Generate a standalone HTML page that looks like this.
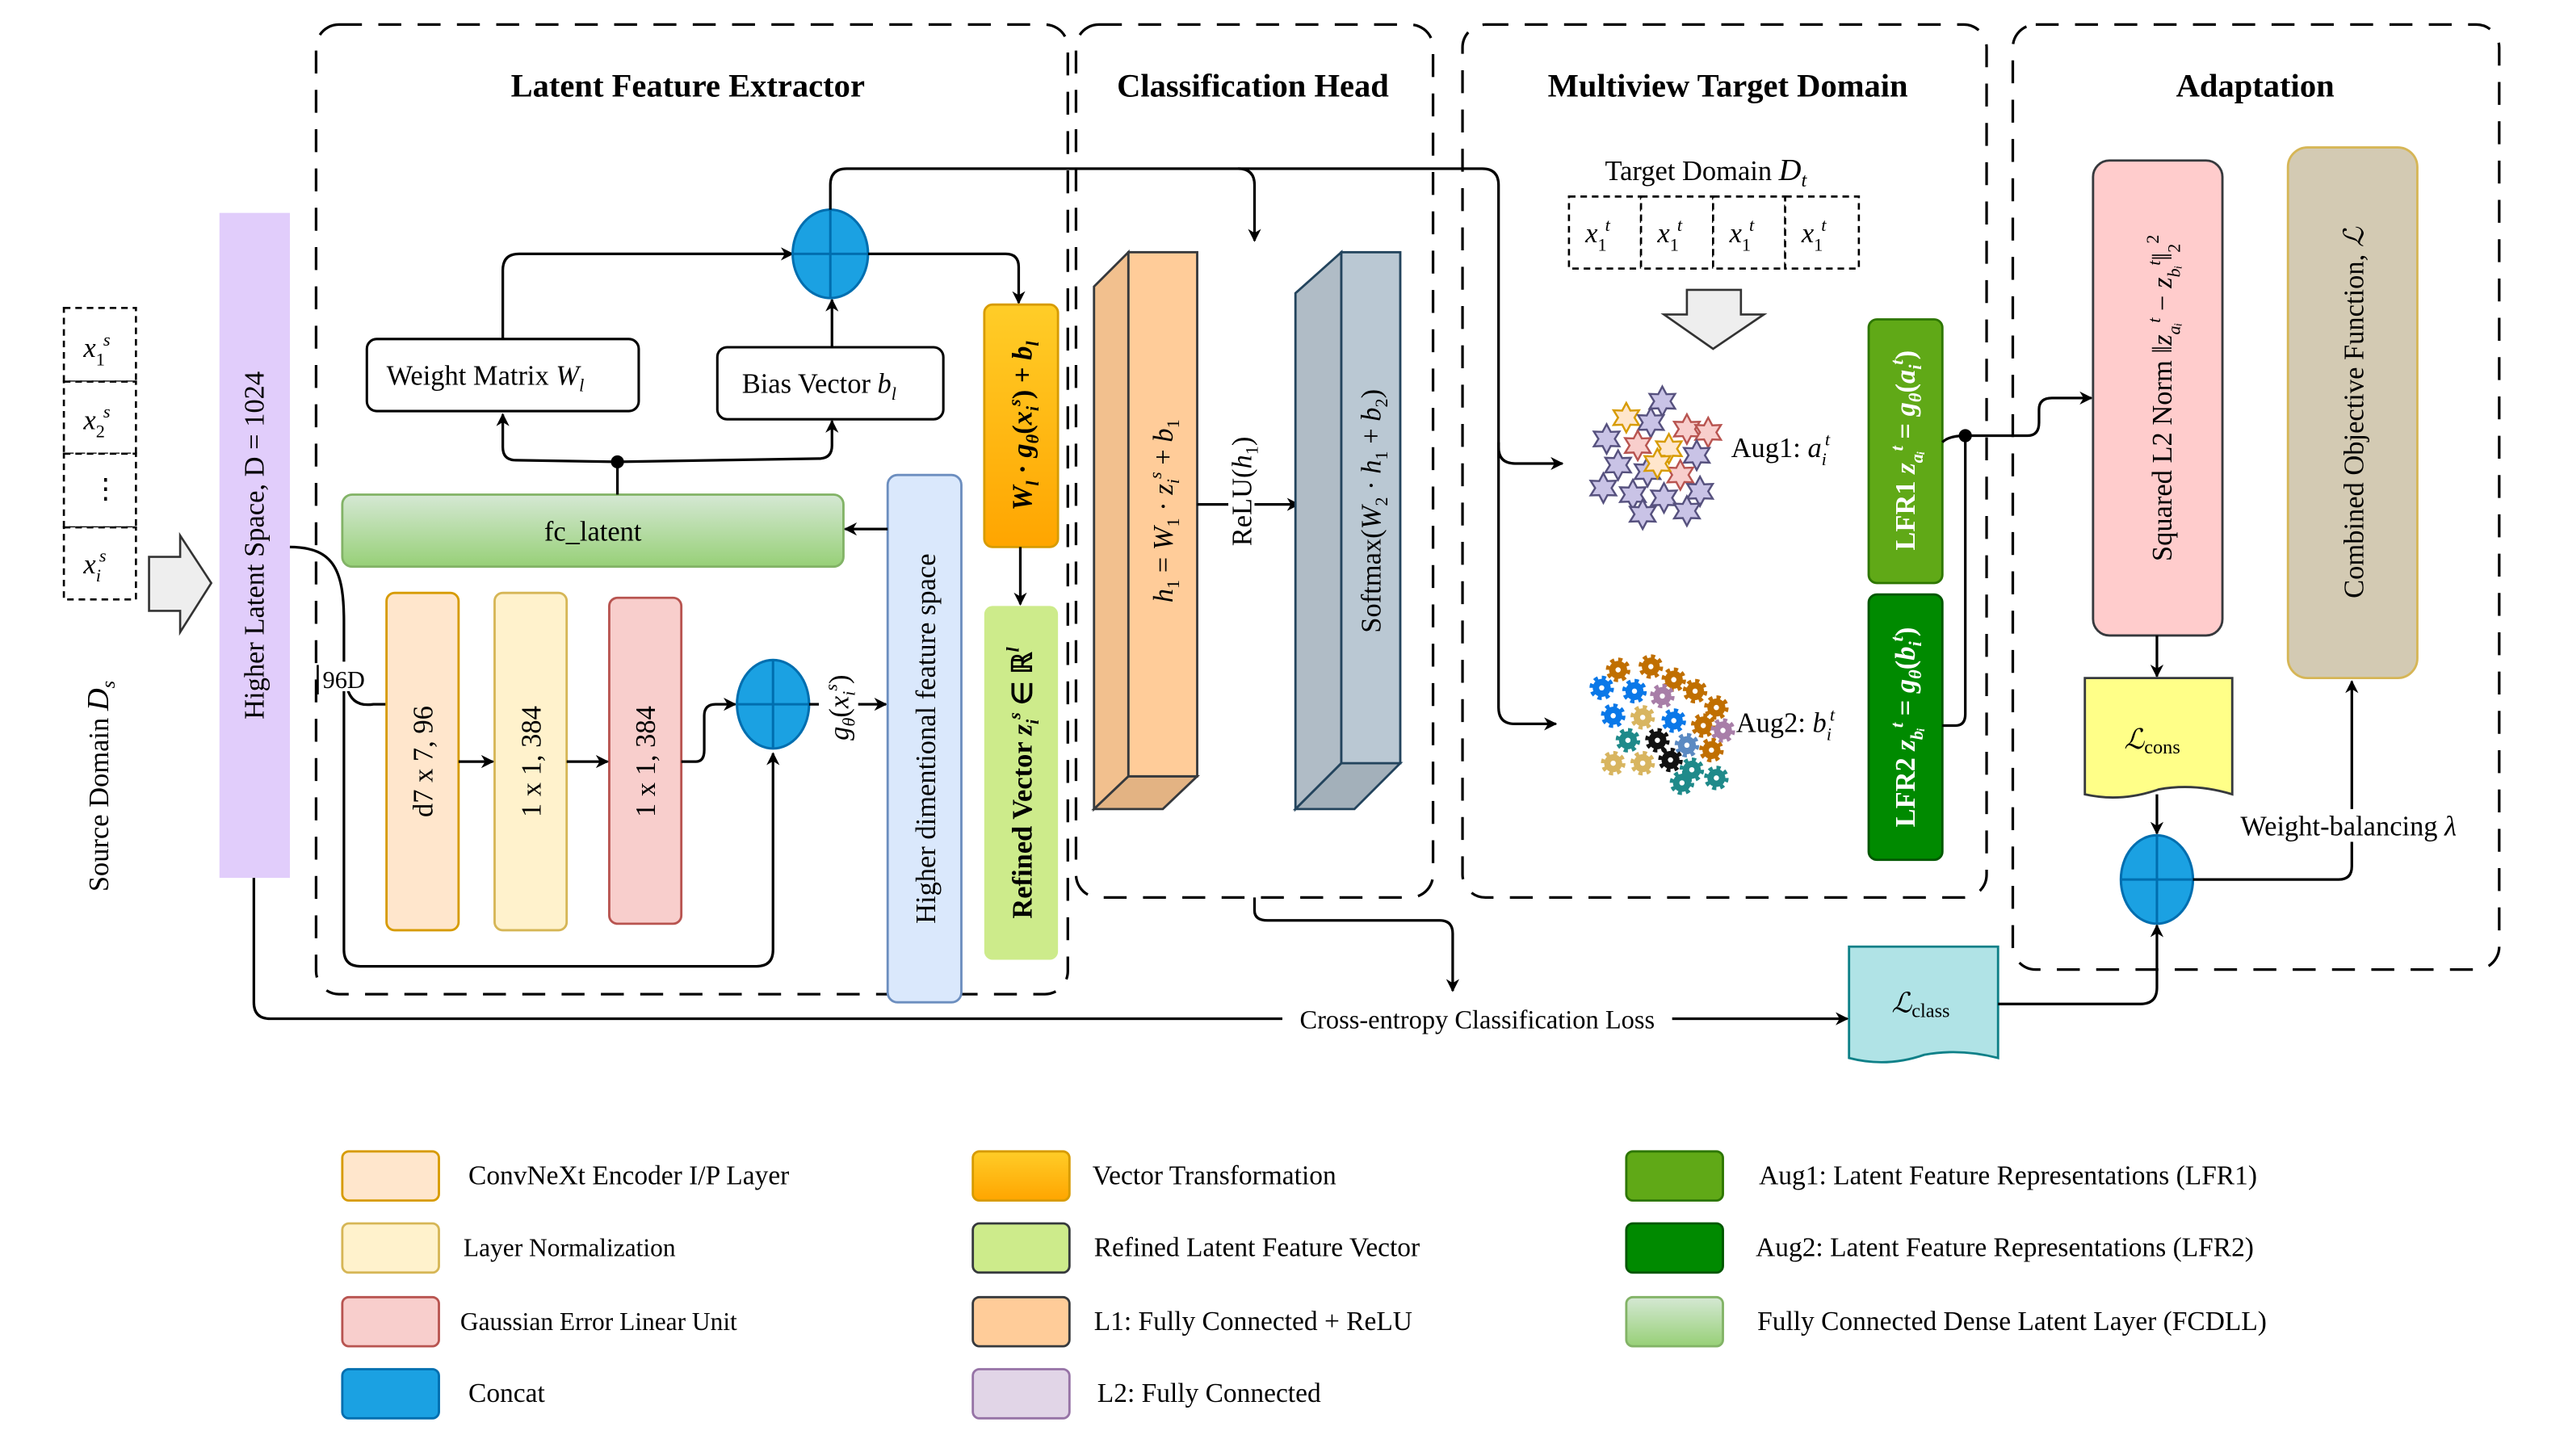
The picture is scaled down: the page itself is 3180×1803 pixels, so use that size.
<!DOCTYPE html>
<html><head><meta charset="utf-8">
<style>
html,body{margin:0;padding:0;background:#fff;}
svg{display:block;}
text{font-family:"Liberation Serif",serif;fill:#000;}
.t{font-size:17px;}
.b{font-weight:bold;}
.i{font-style:italic;}
.ln{fill:none;stroke:#000;stroke-width:1.6;}
.dash{fill:none;stroke:#000;stroke-width:1.6;stroke-dasharray:14 10;}
.sd{fill:#fff;stroke:#000;stroke-width:1.3;stroke-dasharray:4 3;}
</style></head>
<body>
<svg width="3180" height="1803" viewBox="0 0 1568 889" preserveAspectRatio="none" xmlns="http://www.w3.org/2000/svg">
<defs>
<marker id="ar" viewBox="0 0 10 10" refX="9" refY="5" markerWidth="8" markerHeight="8" orient="auto" markerUnits="userSpaceOnUse">
<path d="M0,0 L10,5 L0,10 L3,5 z" fill="#000"/></marker>
<linearGradient id="gG" x1="0" y1="0" x2="0" y2="1"><stop offset="0" stop-color="#d5e8d4"/><stop offset="1" stop-color="#97d077"/></linearGradient>
<linearGradient id="gO" x1="0" y1="0" x2="0" y2="1"><stop offset="0" stop-color="#ffcd28"/><stop offset="1" stop-color="#ffa500"/></linearGradient>
<polygon id="st" points="0,-9 2.5,-4.3 7.8,-4.5 5,0 7.8,4.5 2.5,4.3 0,9 -2.5,4.3 -7.8,4.5 -5,0 -7.8,-4.5 -2.5,-4.3"/>
<g id="gr"><circle r="5.5" stroke-width="4" stroke-dasharray="2.2 2.1"/><circle r="1.6" fill="#fff" stroke="none"/></g>
</defs>

<rect class="dash" x="193" y="15" width="459" height="592" rx="14"/>
<rect class="dash" x="657" y="15" width="218" height="533" rx="14"/>
<rect class="dash" x="893" y="15" width="320" height="533" rx="14"/>
<rect class="dash" x="1229" y="15" width="297" height="577" rx="14"/>

<text x="420" y="59" text-anchor="middle" class="b" font-size="20">Latent Feature Extractor</text>
<text x="765" y="59" text-anchor="middle" class="b" font-size="20">Classification Head</text>
<text x="1055" y="59" text-anchor="middle" class="b" font-size="20">Multiview Target Domain</text>
<text x="1377" y="59" text-anchor="middle" class="b" font-size="20">Adaptation</text>

<rect class="sd" x="39" y="188" width="44" height="45"/>
<rect class="sd" x="39" y="233" width="44" height="44"/>
<rect class="sd" x="39" y="277" width="44" height="45"/>
<rect class="sd" x="39" y="322" width="44" height="44"/>
<text x="51" y="218" class="t i">x<tspan font-size="11" dy="5" font-style="normal">1</tspan><tspan font-size="11" dy="-12" dx="-1">s</tspan></text>
<text x="51" y="262" class="t i">x<tspan font-size="11" dy="5" font-style="normal">2</tspan><tspan font-size="11" dy="-12" dx="-1">s</tspan></text>
<text x="56" y="304" class="t">⋮</text>
<text x="51" y="350" class="t i">x<tspan font-size="11" dy="5">i</tspan><tspan font-size="11" dy="-12" dx="-1">s</tspan></text>
<polygon points="91,340 110,340 110,327 129,356 110,386 110,373 91,373" fill="#eee" stroke="#333" stroke-width="1.3"/>
<text transform="translate(66,480) rotate(-90)" text-anchor="middle" class="t">Source Domain <tspan class="i" font-size="19">D</tspan><tspan class="i" font-size="12" dy="4">s</tspan></text>

<rect x="134" y="130" width="43" height="406" fill="#e1cdfb"/>
<text transform="translate(161,333) rotate(-90)" text-anchor="middle" class="t">Higher Latent Space, D = 1024</text>

<path class="ln" d="M177,334 C205,334 210,350 210,380 L210,580 Q210,590 220,590 L462,590 Q472,590 472,580 L472,460" marker-end="url(#ar)"/>
<path class="ln" d="M212,420 Q215,432 228,430 L236,430"/>
<rect x="196" y="404" width="32" height="18" fill="#fff"/>
<text x="197" y="420" font-size="15">96D</text>
<line x1="194" y1="406" x2="194" y2="424" stroke="#000" stroke-width="1.3"/>

<rect x="236" y="362" width="44" height="206" rx="5" fill="#ffe6cc" stroke="#d79b00" stroke-width="1.4"/>
<rect x="302" y="362" width="44" height="206" rx="5" fill="#fff2cc" stroke="#d6b656" stroke-width="1.4"/>
<rect x="372" y="365" width="44" height="199" rx="5" fill="#f8cecc" stroke="#b85450" stroke-width="1.4"/>
<text transform="translate(264,465) rotate(-90)" text-anchor="middle" class="t">d7 x 7, 96</text>
<text transform="translate(330,465) rotate(-90)" text-anchor="middle" class="t">1 x 1, 384</text>
<text transform="translate(400,465) rotate(-90)" text-anchor="middle" class="t">1 x 1, 384</text>
<line class="ln" x1="280" y1="465" x2="301" y2="465" marker-end="url(#ar)"/>
<line class="ln" x1="346" y1="465" x2="371" y2="465" marker-end="url(#ar)"/>
<path class="ln" d="M416,465 L425,465 Q430,465 430,458 L430,437 Q430,430 437,430 L449,430" marker-end="url(#ar)"/>

<ellipse cx="472" cy="430" rx="22" ry="27" fill="#1ba1e2" stroke="#006eaf" stroke-width="1.5"/>
<line x1="450" y1="430" x2="494" y2="430" stroke="#006eaf" stroke-width="1.5"/>
<line x1="472" y1="403" x2="472" y2="457" stroke="#006eaf" stroke-width="1.5"/>
<line class="ln" x1="494" y1="430" x2="541" y2="430" marker-end="url(#ar)"/>
<rect x="500" y="400" width="24" height="62" fill="#fff"/>
<text transform="translate(518,432) rotate(-90)" text-anchor="middle" class="t i">g<tspan font-size="11" dy="4">θ</tspan><tspan dy="-4" font-style="normal">(</tspan>x<tspan font-size="11" dy="4">i</tspan><tspan font-size="11" dy="-11">s</tspan><tspan dy="7" font-style="normal">)</tspan></text>

<rect x="542" y="290" width="45" height="322" rx="6" fill="#dae8fc" stroke="#6c8ebf" stroke-width="1.4"/>
<text transform="translate(571,451) rotate(-90)" text-anchor="middle" class="t" font-size="18">Higher dimentional feature space</text>

<rect x="209" y="302" width="306" height="44" rx="6" fill="url(#gG)" stroke="#82b366" stroke-width="1.4"/>
<text x="362" y="330" text-anchor="middle" class="t" font-size="18">fc_latent</text>
<line class="ln" x1="542" y1="323" x2="516" y2="323" marker-end="url(#ar)"/>

<line class="ln" x1="377" y1="302" x2="377" y2="282"/>
<circle cx="377" cy="282" r="4" fill="#000"/>
<path class="ln" d="M377,282 L315,281 Q307,281 307,273 L307,253" marker-end="url(#ar)"/>
<path class="ln" d="M377,282 L500,280 Q508,280 508,272 L508,257" marker-end="url(#ar)"/>

<rect x="224" y="207" width="166" height="44" rx="6" fill="#fff" stroke="#000" stroke-width="1.5"/>
<text x="236" y="235" class="t">Weight Matrix <tspan class="i">W<tspan font-size="11" dy="4">l</tspan></tspan></text>
<rect x="438" y="212" width="138" height="44" rx="6" fill="#fff" stroke="#000" stroke-width="1.5"/>
<text x="453" y="240" class="t">Bias Vector <tspan class="i">b<tspan font-size="11" dy="4">l</tspan></tspan></text>

<path class="ln" d="M307,207 L307,165 Q307,155 317,155 L484,155" marker-end="url(#ar)"/>
<line class="ln" x1="508" y1="212" x2="508" y2="183" marker-end="url(#ar)"/>
<ellipse cx="507" cy="155" rx="23" ry="27" fill="#1ba1e2" stroke="#006eaf" stroke-width="1.5"/>
<line x1="484" y1="155" x2="530" y2="155" stroke="#006eaf" stroke-width="1.5"/>
<line x1="507" y1="128" x2="507" y2="182" stroke="#006eaf" stroke-width="1.5"/>
<path class="ln" d="M530,155 L614,155 Q622,155 622,163 L622,185" marker-end="url(#ar)"/>
<path class="ln" d="M507,128 L507,113 Q507,103 517,103 L756,103 Q766,103 766,113 L766,147" marker-end="url(#ar)"/>
<path class="ln" d="M756,103 L905,103 Q915,103 915,113 L915,273 Q915,283 925,283 L954,283" marker-end="url(#ar)"/>
<path class="ln" d="M915,270 L915,432 Q915,442 925,442 L950,442" marker-end="url(#ar)"/>

<rect x="601" y="186" width="45" height="148" rx="5" fill="url(#gO)" stroke="#d79b00" stroke-width="1.4"/>
<text transform="translate(630,260) rotate(-90)" text-anchor="middle" class="t b i">W<tspan font-size="11" dy="4">l</tspan><tspan dy="-4" font-style="normal"> · </tspan>g<tspan font-size="11" dy="4">θ</tspan><tspan dy="-4" font-style="normal">(</tspan>x<tspan font-size="11" dy="4">i</tspan><tspan font-size="11" dy="-11">s</tspan><tspan dy="7" font-style="normal">) + </tspan>b<tspan font-size="11" dy="4">l</tspan></text>
<line class="ln" x1="623" y1="334" x2="623" y2="369" marker-end="url(#ar)"/>
<rect x="601" y="370" width="45" height="216" rx="5" fill="#cdeb8b"/>
<text transform="translate(630,478) rotate(-90)" text-anchor="middle" class="t b">Refined Vector  <tspan class="i">z<tspan font-size="11" dy="4">i</tspan><tspan font-size="11" dy="-11">s</tspan><tspan dy="7" font-style="normal"> ∈ ℝ</tspan><tspan font-size="11" dy="-8">l</tspan></tspan></text>

<polygon points="668,175 689,154 689,474 668,494" fill="#f2c08e" stroke="#36393d" stroke-width="1.4"/>
<polygon points="668,494 689,474 731,474 710,494" fill="#e3b383" stroke="#36393d" stroke-width="1.4"/>
<rect x="689" y="154" width="42" height="320" fill="#ffcc99" stroke="#36393d" stroke-width="1.4"/>
<text transform="translate(716,312) rotate(-90)" text-anchor="middle" class="t i" font-size="18">h<tspan font-size="11" dy="4" font-style="normal">1</tspan><tspan dy="-4" font-style="normal"> = </tspan>W<tspan font-size="11" dy="4" font-style="normal">1</tspan><tspan dy="-4" font-style="normal"> · </tspan>z<tspan font-size="11" dy="4">i</tspan><tspan font-size="11" dy="-11">s</tspan><tspan dy="7" font-style="normal"> + </tspan>b<tspan font-size="11" dy="4" font-style="normal">1</tspan></text>
<line class="ln" x1="731" y1="308" x2="750" y2="308"/>
<line class="ln" x1="766" y1="308" x2="793" y2="308" marker-end="url(#ar)"/>
<text transform="translate(764,300) rotate(-90)" text-anchor="middle" class="t">ReLU(<tspan class="i">h</tspan><tspan font-size="11" dy="4">1</tspan><tspan dy="-4">)</tspan></text>

<polygon points="791,179 819,154 819,466 791,494" fill="#b0bcc6" stroke="#23445d" stroke-width="1.4"/>
<polygon points="791,494 819,466 855,466 827,494" fill="#a3b0ba" stroke="#23445d" stroke-width="1.4"/>
<rect x="819" y="154" width="36" height="312" fill="#bac8d3" stroke="#23445d" stroke-width="1.4"/>
<text transform="translate(843,312) rotate(-90)" text-anchor="middle" class="t" font-size="18">Softmax(<tspan class="i">W</tspan><tspan font-size="11" dy="4">2</tspan><tspan dy="-4"> · </tspan><tspan class="i">h</tspan><tspan font-size="11" dy="4">1</tspan><tspan dy="-4"> + </tspan><tspan class="i">b</tspan><tspan font-size="11" dy="4">2</tspan><tspan dy="-4">)</tspan></text>

<text x="980" y="110" class="t">Target Domain <tspan class="i" font-size="19">D</tspan><tspan class="i" font-size="12" dy="4">t</tspan></text>
<rect class="sd" x="958" y="120" width="44" height="44"/>
<rect class="sd" x="1002" y="120" width="44" height="44"/>
<rect class="sd" x="1046" y="120" width="44" height="44"/>
<rect class="sd" x="1090" y="120" width="45" height="44"/>
<g class="t i">
<text x="968" y="148">x<tspan font-size="11" dy="5" font-style="normal">1</tspan><tspan font-size="11" dy="-12" dx="-1">t</tspan></text>
<text x="1012" y="148">x<tspan font-size="11" dy="5" font-style="normal">1</tspan><tspan font-size="11" dy="-12" dx="-1">t</tspan></text>
<text x="1056" y="148">x<tspan font-size="11" dy="5" font-style="normal">1</tspan><tspan font-size="11" dy="-12" dx="-1">t</tspan></text>
<text x="1100" y="148">x<tspan font-size="11" dy="5" font-style="normal">1</tspan><tspan font-size="11" dy="-12" dx="-1">t</tspan></text>
</g>
<polygon points="1030,177 1063,177 1063,192 1077,192 1046,213 1016,192 1030,192" fill="#eee" stroke="#333" stroke-width="1.3"/>

<g stroke-width="1.2">
<use href="#st" x="1015" y="245" fill="#c9c3e6" stroke="#56517e"/>
<use href="#st" x="993" y="255" fill="#ffe6cc" stroke="#d79b00"/>
<use href="#st" x="1008" y="258" fill="#c9c3e6" stroke="#56517e"/>
<use href="#st" x="1030" y="262" fill="#f8cecc" stroke="#b85450"/>
<use href="#st" x="1043" y="264" fill="#f8cecc" stroke="#b85450"/>
<use href="#st" x="981" y="268" fill="#c9c3e6" stroke="#56517e"/>
<use href="#st" x="1000" y="272" fill="#f8cecc" stroke="#b85450"/>
<use href="#st" x="1019" y="274" fill="#ffe6cc" stroke="#d79b00"/>
<use href="#st" x="1036" y="278" fill="#c9c3e6" stroke="#56517e"/>
<use href="#st" x="988" y="284" fill="#c9c3e6" stroke="#56517e"/>
<use href="#st" x="1006" y="288" fill="#c9c3e6" stroke="#56517e"/>
<use href="#st" x="1026" y="290" fill="#f8cecc" stroke="#b85450"/>
<use href="#st" x="979" y="298" fill="#c9c3e6" stroke="#56517e"/>
<use href="#st" x="997" y="302" fill="#c9c3e6" stroke="#56517e"/>
<use href="#st" x="1016" y="304" fill="#c9c3e6" stroke="#56517e"/>
<use href="#st" x="1038" y="300" fill="#c9c3e6" stroke="#56517e"/>
<use href="#st" x="1030" y="312" fill="#c9c3e6" stroke="#56517e"/>
<use href="#st" x="1003" y="314" fill="#c9c3e6" stroke="#56517e"/>
<use href="#st" x="1012" y="283" fill="#ffe6cc" stroke="#d79b00"/>
</g>
<text x="1057" y="279" class="t">Aug1: <tspan class="i">a</tspan><tspan class="i" font-size="11" dy="5">i</tspan><tspan class="i" font-size="11" dy="-12" dx="-1">t</tspan></text>

<g>
<use href="#gr" x="988" y="409" fill="#c06f00" stroke="#c06f00"/>
<use href="#gr" x="1008" y="407" fill="#c06f00" stroke="#c06f00"/>
<use href="#gr" x="1022" y="415" fill="#c06f00" stroke="#c06f00"/>
<use href="#gr" x="978" y="420" fill="#0a78e8" stroke="#0a78e8"/>
<use href="#gr" x="998" y="422" fill="#0a78e8" stroke="#0a78e8"/>
<use href="#gr" x="1015" y="425" fill="#a87ea8" stroke="#a87ea8"/>
<use href="#gr" x="1035" y="422" fill="#c06f00" stroke="#c06f00"/>
<use href="#gr" x="1048" y="432" fill="#c06f00" stroke="#c06f00"/>
<use href="#gr" x="985" y="437" fill="#0a78e8" stroke="#0a78e8"/>
<use href="#gr" x="1003" y="438" fill="#d8b560" stroke="#d8b560"/>
<use href="#gr" x="1022" y="440" fill="#0a78e8" stroke="#0a78e8"/>
<use href="#gr" x="1040" y="443" fill="#c06f00" stroke="#c06f00"/>
<use href="#gr" x="1052" y="446" fill="#a87ea8" stroke="#a87ea8"/>
<use href="#gr" x="994" y="452" fill="#1f8a8a" stroke="#1f8a8a"/>
<use href="#gr" x="1012" y="452" fill="#111" stroke="#111"/>
<use href="#gr" x="1030" y="455" fill="#5b8ac2" stroke="#5b8ac2"/>
<use href="#gr" x="1045" y="458" fill="#c06f00" stroke="#c06f00"/>
<use href="#gr" x="985" y="466" fill="#d8b560" stroke="#d8b560"/>
<use href="#gr" x="1003" y="466" fill="#d8b560" stroke="#d8b560"/>
<use href="#gr" x="1020" y="464" fill="#111" stroke="#111"/>
<use href="#gr" x="1033" y="470" fill="#1f8a8a" stroke="#1f8a8a"/>
<use href="#gr" x="1027" y="478" fill="#1f8a8a" stroke="#1f8a8a"/>
<use href="#gr" x="1048" y="475" fill="#1f8a8a" stroke="#1f8a8a"/>
</g>
<text x="1060" y="447" class="t">Aug2: <tspan class="i">b</tspan><tspan class="i" font-size="11" dy="5">i</tspan><tspan class="i" font-size="11" dy="-12" dx="-1">t</tspan></text>

<rect x="1141" y="195" width="45" height="161" rx="5" fill="#60a917" stroke="#2d7600" stroke-width="1.4"/>
<text transform="translate(1169,275) rotate(-90)" text-anchor="middle" class="t b" style="fill:#fff">LFR1 <tspan class="i" style="fill:#fff">z<tspan font-size="11" dy="5">aᵢ</tspan><tspan font-size="11" dy="-12">t</tspan><tspan dy="7" font-style="normal"> = </tspan>g<tspan font-size="11" dy="4">θ</tspan><tspan dy="-4" font-style="normal">(</tspan>a<tspan font-size="11" dy="4">i</tspan><tspan font-size="11" dy="-11">t</tspan><tspan dy="7" font-style="normal">)</tspan></tspan></text>
<rect x="1141" y="363" width="45" height="162" rx="5" fill="#008a00" stroke="#005700" stroke-width="1.4"/>
<text transform="translate(1169,444) rotate(-90)" text-anchor="middle" class="t b" style="fill:#fff">LFR2 <tspan class="i" style="fill:#fff">z<tspan font-size="11" dy="5">bᵢ</tspan><tspan font-size="11" dy="-12">t</tspan><tspan dy="7" font-style="normal"> = </tspan>g<tspan font-size="11" dy="4">θ</tspan><tspan dy="-4" font-style="normal">(</tspan>b<tspan font-size="11" dy="4">i</tspan><tspan font-size="11" dy="-11">t</tspan><tspan dy="7" font-style="normal">)</tspan></tspan></text>

<path class="ln" d="M1186,270 Q1190,266 1200,266 L1238,266 Q1245,266 1245,258 L1245,250 Q1245,243 1253,243 L1277,243" marker-end="url(#ar)"/>
<path class="ln" d="M1186,443 L1194,443 Q1200,443 1200,436 L1200,266"/>
<circle cx="1200" cy="266" r="4" fill="#000"/>

<rect x="1278" y="98" width="79" height="290" rx="10" fill="#ffcccc" stroke="#36393d" stroke-width="1.4"/>
<text transform="translate(1326,243) rotate(-90)" text-anchor="middle" class="t" font-size="18">Squared L2 Norm ‖<tspan class="i">z</tspan><tspan class="i" font-size="11" dy="5">aᵢ</tspan><tspan class="i" font-size="11" dy="-12">t</tspan><tspan dy="7"> − </tspan><tspan class="i">z</tspan><tspan class="i" font-size="11" dy="5">bᵢ</tspan><tspan class="i" font-size="11" dy="-12">t</tspan><tspan dy="7">‖</tspan><tspan font-size="11" dy="5">2</tspan><tspan font-size="11" dy="-13">2</tspan></text>
<rect x="1397" y="90" width="79" height="324" rx="12" fill="#d3cab3" stroke="#d6b656" stroke-width="1.4"/>
<text transform="translate(1443,252) rotate(-90)" text-anchor="middle" class="t" font-size="18">Combined Objective Function, <tspan class="i">ℒ</tspan></text>

<line class="ln" x1="1317" y1="388" x2="1317" y2="413" marker-end="url(#ar)"/>
<path d="M1273,414 L1363,414 L1363,485 Q1340,478 1318,482 Q1295,490 1273,485 Z" fill="#ffff88" stroke="#36393d" stroke-width="1.4"/>
<text x="1297" y="457" class="t i" font-size="19">ℒ<tspan font-size="12" dy="3" font-style="normal">cons</tspan></text>
<line class="ln" x1="1317" y1="485" x2="1317" y2="509" marker-end="url(#ar)"/>

<ellipse cx="1317" cy="537" rx="22" ry="27" fill="#1ba1e2" stroke="#006eaf" stroke-width="1.5"/>
<line x1="1295" y1="537" x2="1339" y2="537" stroke="#006eaf" stroke-width="1.5"/>
<line x1="1317" y1="510" x2="1317" y2="564" stroke="#006eaf" stroke-width="1.5"/>
<path class="ln" d="M1339,537 L1428,537 Q1436,537 1436,529 L1436,416" marker-end="url(#ar)"/>
<rect x="1366" y="494" width="140" height="20" fill="#fff"/>
<text x="1368" y="510" class="t">Weight-balancing <tspan class="i">λ</tspan></text>

<path d="M1129,578 L1220,578 L1220,646 Q1197,640 1175,644 Q1152,652 1129,646 Z" fill="#b0e3e6" stroke="#0e8088" stroke-width="1.4"/>
<text x="1155" y="618" class="t i" font-size="19">ℒ<tspan font-size="12" dy="3" font-style="normal">class</tspan></text>
<path class="ln" d="M1220,613 L1307,613 Q1317,613 1317,603 L1317,565" marker-end="url(#ar)"/>

<path class="ln" d="M155,536 L155,612 Q155,622 165,622 L1128,622" marker-end="url(#ar)"/>
<rect x="783" y="613" width="238" height="18" fill="#fff"/>
<text x="902" y="628" text-anchor="middle" font-size="16">Cross-entropy Classification Loss</text>
<path class="ln" d="M766,548 L766,556 Q766,562 774,562 L879,562 Q887,562 887,570 L887,605" marker-end="url(#ar)"/>

<g font-size="16.5">
<rect x="209" y="703" width="59" height="30" rx="4" fill="#ffe6cc" stroke="#d79b00" stroke-width="1.4"/>
<text x="286" y="723">ConvNeXt Encoder I/P Layer</text>
<rect x="209" y="747" width="59" height="30" rx="4" fill="#fff2cc" stroke="#d6b656" stroke-width="1.4"/>
<text x="283" y="767" font-size="15.5">Layer Normalization</text>
<rect x="209" y="792" width="59" height="30" rx="4" fill="#f8cecc" stroke="#b85450" stroke-width="1.4"/>
<text x="281" y="812" font-size="15.5">Gaussian Error Linear Unit</text>
<rect x="209" y="836" width="59" height="30" rx="4" fill="#1ba1e2" stroke="#006eaf" stroke-width="1.4"/>
<text x="286" y="856">Concat</text>

<rect x="594" y="703" width="59" height="30" rx="4" fill="url(#gO)" stroke="#d79b00" stroke-width="1.4"/>
<text x="667" y="723">Vector Transformation</text>
<rect x="594" y="747" width="59" height="30" rx="4" fill="#cdeb8b" stroke="#36393d" stroke-width="1.4"/>
<text x="668" y="767">Refined Latent Feature Vector</text>
<rect x="594" y="792" width="59" height="30" rx="4" fill="#ffcc99" stroke="#36393d" stroke-width="1.4"/>
<text x="668" y="812">L1: Fully Connected + ReLU</text>
<rect x="594" y="836" width="59" height="30" rx="4" fill="#e1d5e7" stroke="#9673a6" stroke-width="1.4"/>
<text x="670" y="856">L2: Fully Connected</text>

<rect x="993" y="703" width="59" height="30" rx="4" fill="#60a917" stroke="#2d7600" stroke-width="1.4"/>
<text x="1074" y="723">Aug1: Latent Feature Representations (LFR1)</text>
<rect x="993" y="747" width="59" height="30" rx="4" fill="#008a00" stroke="#005700" stroke-width="1.4"/>
<text x="1072" y="767">Aug2: Latent Feature Representations (LFR2)</text>
<rect x="993" y="792" width="59" height="30" rx="4" fill="url(#gG)" stroke="#82b366" stroke-width="1.4"/>
<text x="1073" y="812">Fully Connected Dense Latent Layer (FCDLL)</text>
</g>
</svg>
</body></html>
